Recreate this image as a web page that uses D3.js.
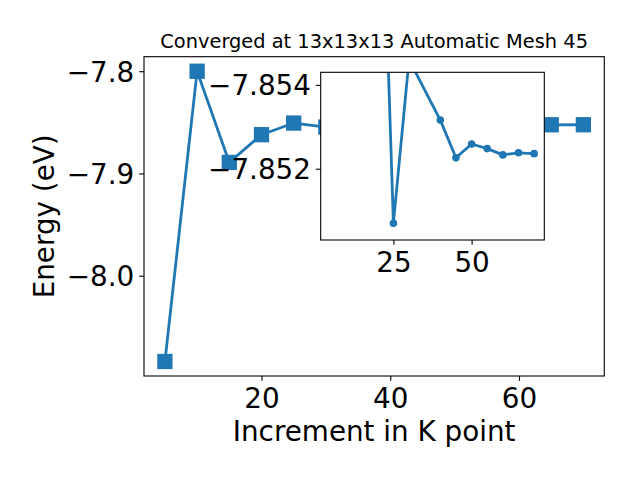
<!DOCTYPE html>
<html>
<head>
<meta charset="utf-8">
<script src="https://cdn.jsdelivr.net/npm/d3@7"></script>
<style>
  body { margin: 0; background: #fff; }
  text { font-family: "DejaVu Sans", sans-serif; fill: #000; }
</style>
</head>
<body>
<script>
// k-point increments and total energies (eV)
const kPoints = [5, 10, 15, 20, 25, 30, 40, 45, 50, 55, 60, 65, 70]
const energy = [-8.0839, -7.8000, -7.8892, -7.8621, -7.8507, -7.8546, -7.85316,
  -7.85226, -7.85259, -7.85248, -7.85233, -7.85238, -7.85236]
// the zoomed inset starts at the 20 increment
const insetStart = 3
const mainXTicks = [20, 40, 60]
const mainYTicks = [-7.8, -7.9, -8.0]
const insetXTicks = [25, 50]
const insetYTicks = [-7.854, -7.852]
const insetYLim = [-7.8543, -7.8503]
const titleText = 'Converged at 13x13x13 Automatic Mesh 45'

const svgWidth = 640, svgHeight = 480
const main = {left: 144, right: 604.3, top: 56.7, bottom: 376}
const inset = {left: 320.7, right: 544.3, top: 72.3, bottom: 240}
const blue = '#1f77b4'
const tickLen = 4.86, tickPad = 4.86, fontBig = 27.8

const data = kPoints.map(function(k, i) { return {k: k, e: energy[i]} })
const insetData = data.slice(insetStart)

const svg = d3.select('body').append('svg')
  .attr('width', svgWidth)
  .attr('height', svgHeight)

// matplotlib style 5% margins
function padded(ext) {
  const m = (ext[1] - ext[0]) * 0.05
  return [ext[0] - m, ext[1] + m]
}

const x = d3.scaleLinear().domain(padded(d3.extent(kPoints))).range([main.left, main.right])
const y = d3.scaleLinear().domain(padded(d3.extent(energy))).range([main.bottom, main.top])
const xi = d3.scaleLinear().domain(x.domain()).range([inset.left, inset.right])
// inset y axis runs upside down
const yi = d3.scaleLinear().domain(insetYLim).range([inset.top, inset.bottom])

function styleAxis(g, anchorDy) {
  g.select('.domain').remove()
  g.selectAll('.tick line').attr('stroke', '#000').attr('stroke-width', 1.1)
  g.selectAll('.tick text')
    .attr('font-size', fontBig)
    .attr('font-family', '"DejaVu Sans", sans-serif')
    .attr('fill', '#000')
    .attr('dy', anchorDy)
}

const fmt1 = function(d) { return d3.format('.1f')(d) }
const fmt3 = function(d) { return d3.format('.3f')(d) }

// ---- main axes
const mainG = svg.append('g')
mainG.append('rect')
  .attr('x', main.left).attr('y', main.top)
  .attr('width', main.right - main.left).attr('height', main.bottom - main.top)
  .attr('fill', '#fff')

const line = d3.line().x(function(d) { return x(d.k) }).y(function(d) { return y(d.e) })
mainG.append('path')
  .datum(data)
  .attr('d', line)
  .attr('fill', 'none')
  .attr('stroke', blue)
  .attr('stroke-width', 2.78)
  .attr('stroke-linejoin', 'round')

const sq = 13.9
mainG.selectAll('.sq')
  .data(data)
  .enter().append('rect')
  .attr('class', 'sq')
  .attr('x', function(d) { return x(d.k) - sq / 2 })
  .attr('y', function(d) { return y(d.e) - sq / 2 })
  .attr('width', sq).attr('height', sq)
  .attr('fill', blue).attr('stroke', blue).attr('stroke-width', 1.39)

mainG.append('g')
  .attr('transform', 'translate(0,' + main.bottom + ')')
  .call(d3.axisBottom(x).tickValues(mainXTicks).tickSize(tickLen).tickPadding(tickPad).tickSizeOuter(0))
  .call(function(g) { styleAxis(g, '0.785em') })

mainG.append('g')
  .attr('transform', 'translate(' + main.left + ',0)')
  .call(d3.axisLeft(y).tickValues(mainYTicks).tickFormat(fmt1).tickSize(tickLen).tickPadding(tickPad).tickSizeOuter(0))
  .call(function(g) { styleAxis(g, '0.36em') })

mainG.append('rect')
  .attr('x', main.left).attr('y', main.top)
  .attr('width', main.right - main.left).attr('height', main.bottom - main.top)
  .attr('fill', 'none').attr('stroke', '#000').attr('stroke-width', 1.1)

svg.append('text')
  .attr('x', (main.left + main.right) / 2)
  .attr('y', 48.4)
  .attr('text-anchor', 'middle')
  .attr('font-size', 19.4)
  .text(titleText)

svg.append('text')
  .attr('x', (main.left + main.right) / 2)
  .attr('y', 441)
  .attr('text-anchor', 'middle')
  .attr('font-size', fontBig)
  .text('Increment in K point')

svg.append('text')
  .attr('transform', 'translate(53.6,' + (main.top + main.bottom) / 2 + ') rotate(-90)')
  .attr('text-anchor', 'middle')
  .attr('font-size', fontBig)
  .text('Energy (eV)')

// ---- inset axes
const insetG = svg.append('g')
insetG.append('clipPath')
  .attr('id', 'insetClip')
  .append('rect')
  .attr('x', inset.left).attr('y', inset.top)
  .attr('width', inset.right - inset.left).attr('height', inset.bottom - inset.top)

insetG.append('rect')
  .attr('x', inset.left).attr('y', inset.top)
  .attr('width', inset.right - inset.left).attr('height', inset.bottom - inset.top)
  .attr('fill', '#fff')

const lineI = d3.line().x(function(d) { return xi(d.k) }).y(function(d) { return yi(d.e) })
const plotI = insetG.append('g').attr('clip-path', 'url(#insetClip)')
plotI.append('path')
  .datum(insetData)
  .attr('d', lineI)
  .attr('fill', 'none')
  .attr('stroke', blue)
  .attr('stroke-width', 2.78)
  .attr('stroke-linejoin', 'round')

plotI.selectAll('.dot')
  .data(insetData)
  .enter().append('circle')
  .attr('class', 'dot')
  .attr('cx', function(d) { return xi(d.k) })
  .attr('cy', function(d) { return yi(d.e) })
  .attr('r', 3.2)
  .attr('fill', blue).attr('stroke', blue).attr('stroke-width', 1.2)

insetG.append('g')
  .attr('transform', 'translate(0,' + inset.bottom + ')')
  .call(d3.axisBottom(xi).tickValues(insetXTicks).tickSize(tickLen).tickPadding(tickPad).tickSizeOuter(0))
  .call(function(g) { styleAxis(g, '0.785em') })

insetG.append('g')
  .attr('transform', 'translate(' + inset.left + ',0)')
  .call(d3.axisLeft(yi).tickValues(insetYTicks).tickFormat(fmt3).tickSize(tickLen).tickPadding(tickPad).tickSizeOuter(0))
  .call(function(g) { styleAxis(g, '0.36em') })

insetG.append('rect')
  .attr('x', inset.left).attr('y', inset.top)
  .attr('width', inset.right - inset.left).attr('height', inset.bottom - inset.top)
  .attr('fill', 'none').attr('stroke', '#000').attr('stroke-width', 1.1)
</script>
</body>
</html>
